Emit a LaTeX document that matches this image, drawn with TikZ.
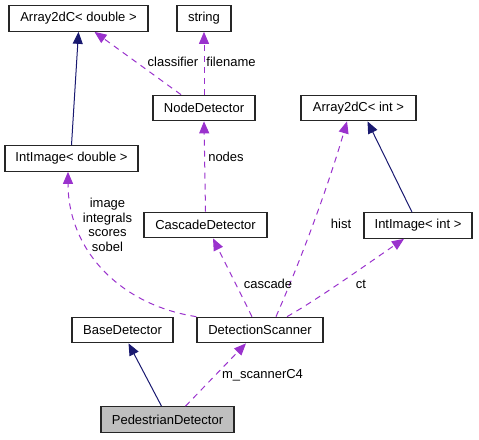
\documentclass[tikz,border=0pt]{standalone}
\usepackage{fontspec}
\setmainfont{Liberation Sans}
\usepackage{tikz}
\usetikzlibrary{arrows.meta,positioning,calc}
\definecolor{usecol}{HTML}{9A32CD}
\definecolor{inhcol}{HTML}{191970}

\begin{document}
\begin{tikzpicture}[x=1pt,y=-1pt,
  cls/.style={draw=black!85,line width=1.2pt,fill=white,minimum height=25.5pt,inner sep=0pt,font=\fontsize{13}{15}\selectfont},
  inh/.style={inhcol,line width=1pt,-{Triangle[length=12pt,width=10pt]}},
  rel/.style={usecol,line width=1pt,dash pattern=on 6pt off 5pt,-{Triangle[length=12pt,width=10pt]}},
  lbl/.style={font=\fontsize{13}{14.6}\selectfont,inner sep=0pt,align=center}]
  \useasboundingbox (0,0) rectangle (479,439);
  % Classes
  \node[cls,minimum width=139pt] (arrD) at (78.5,18.5) {Array2dC< double >};
  \node[cls,minimum width=54pt] (str) at (204,18.5) {string};
  \node[cls,minimum width=102pt] (nodeDet) at (204,108) {NodeDetector};
  \node[cls,minimum width=115pt] (arrI) at (358.5,108) {Array2dC< int >};
  \node[cls,minimum width=133pt] (intD) at (71.5,158.5) {IntImage< double >};
  \node[cls,minimum width=123pt] (casc) at (205.5,225) {CascadeDetector};
  \node[cls,minimum width=108pt] (intI) at (418,225.5) {IntImage< int >};
  \node[cls,minimum width=101pt] (base) at (122.5,330) {BaseDetector};
  \node[cls,minimum width=126pt] (scan) at (260,330) {DetectionScanner};
  \node[cls,minimum width=133pt,fill=black!25] (ped) at (167.5,419.5) {PedestrianDetector};
  % Inheritance
  \draw[inh] (intD.north) -- (arrD.south);
  \draw[inh] ([xshift=-6pt]intI.north) -- ([xshift=9pt]arrI.south);
  \draw[inh] ([xshift=-6pt]ped.north) -- ([xshift=6pt]base.south);
  % Usage
  \draw[rel] ([xshift=-23pt]nodeDet.north) -- ([xshift=16pt]arrD.south);
  \draw[rel] (nodeDet.north) -- (str.south);
  \draw[rel] (casc.north) -- (nodeDet.south);
  \draw[rel] (scan.north west) .. controls (120,305) and (68,250) .. ([xshift=-3.5pt]intD.south);
  \draw[rel] ([xshift=-8pt]scan.north) -- ([xshift=7.5pt]casc.south);
  \draw[rel] ([xshift=16pt]scan.north) .. controls (305,250) and (330,180) .. ([xshift=-11.5pt]arrI.south);
  \draw[rel] ([xshift=27pt]scan.north) .. controls (320,298) and (370,262) .. ([xshift=-14pt]intI.south);
  \draw[rel] ([xshift=18pt]ped.north) -- ([xshift=-14pt]scan.south);
  % Labels
  \node[lbl] (lClassifier) at (173,62) {classifier};
  \node[lbl] (lFilename) at (231,62) {filename};
  \node[lbl] (lNodes) at (226,157) {nodes};
  \node[lbl] (lImage) at (107.5,225) {image\\integrals\\scores\\sobel};
  \node[lbl] (lCascade) at (268,284) {cascade};
  \node[lbl] (lHist) at (341,224) {hist};
  \node[lbl] (lCt) at (361,284) {ct};
  \node[lbl] (lScanner) at (262.5,375) {m\_scannerC4};
\end{tikzpicture}
\end{document}
